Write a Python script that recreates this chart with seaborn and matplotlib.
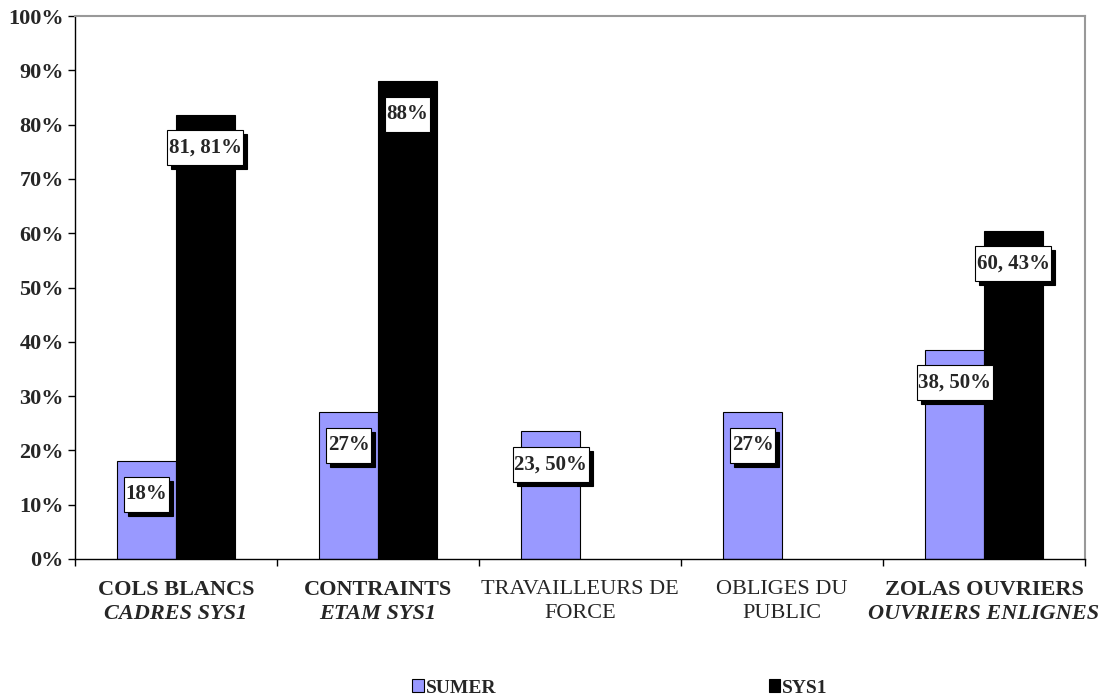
import numpy as np
import pandas as pd
import matplotlib
matplotlib.use('Agg')
import matplotlib.pyplot as plt
from matplotlib.ticker import PercentFormatter
from matplotlib.patches import Patch, Rectangle
import seaborn as sns

# data
categories = ['COLS BLANCS', 'CONTRAINTS', 'TRAVAILLEURS DE', 'OBLIGES DU', 'ZOLAS OUVRIERS']
line2 = ['CADRES SYS1', 'ETAM SYS1', 'FORCE', 'PUBLIC', 'OUVRIERS ENLIGNES']
line1_weight = ['bold', 'bold', 'normal', 'normal', 'bold']
line2_style = ['italic', 'italic', 'normal', 'normal', 'italic']
series = ['SUMER', 'SYS1']
sumer = [18.0, 27.0, 23.5, 27.0, 38.5]
sys1 = [81.81, 88.0, np.nan, np.nan, 60.43]
sumer_labels = ['18%', '27%', '23, 50%', '27%', '38, 50%']
sys1_labels = ['81, 81%', '88%', '', '', '60, 43%']
colors = ['#9999FF', '#000000']

sns.set_style('white')
plt.rcParams['font.family'] = ['Liberation Serif', 'DejaVu Serif']

df = pd.DataFrame({
    'cat': categories * 2,
    'serie': ['SUMER'] * 5 + ['SYS1'] * 5,
    'val': sumer + sys1,
})

fig = plt.figure(figsize=(11.19, 6.99), dpi=100)
ax = fig.add_axes([75/1119, 1-559/699, (1085-75)/1119, (559-16)/699])

sns.barplot(data=df, x='cat', y='val', hue='serie', palette=colors, width=0.58,
            edgecolor='black', linewidth=0.8, saturation=1, ax=ax, legend=False)

ax.set_ylim(0, 100)
ax.set_xlim(-0.5, 4.5)
ax.set_yticks(np.arange(0, 101, 10))
ax.yaxis.set_major_formatter(PercentFormatter(decimals=0))
for t in ax.get_yticklabels():
    t.set_fontweight('bold')
    t.set_fontsize(16)
ax.tick_params(axis='y', left=True, length=5, width=1, color='black', pad=3)
ax.set_xticks(np.arange(-0.5, 5, 1))
ax.set_xticklabels([])
ax.tick_params(axis='x', bottom=True, length=5, width=1, color='black')
ax.set_xlabel('')
ax.set_ylabel('')
for s in ['left', 'bottom']:
    ax.spines[s].set_color('black')
    ax.spines[s].set_linewidth(1)
for s in ['top', 'right']:
    ax.spines[s].set_color('#999999')
    ax.spines[s].set_linewidth(1.5)

# category labels, two lines with their own styles
for i in range(len(categories)):
    ax.annotate(categories[i], xy=(i, 0), xycoords=('data', 'axes fraction'),
                xytext=(0, -31), textcoords='offset pixels', ha='center', va='center',
                fontsize=16, fontweight=line1_weight[i])
    ax.annotate(line2[i], xy=(i, 0), xycoords=('data', 'axes fraction'),
                xytext=(0, -55), textcoords='offset pixels', ha='center', va='center',
                fontsize=16, fontstyle=line2_style[i],
                fontweight='bold' if line2_style[i] == 'italic' else 'normal')

# value labels
all_labels = [sumer_labels, sys1_labels]
texts = []
for cont, labs in zip(ax.containers, all_labels):
    for bar in cont:
        h = bar.get_height()
        x = bar.get_x() + bar.get_width() / 2
        lab = labs[int(round(x))]
        if lab == '' or np.isnan(h):
            continue
        t = ax.annotate(lab, xy=(x, h), xytext=(0, -33), textcoords='offset pixels',
                        ha='center', va='center', fontsize=15, fontweight='bold', zorder=6)
        texts.append(t)

# white boxes with a black shadow behind each label
fig.canvas.draw()
r = fig.canvas.get_renderer()
inv = ax.transData.inverted()
for t in texts:
    bb = t.get_window_extent(r)
    cx = (bb.x0 + bb.x1) / 2
    cy = (bb.y0 + bb.y1) / 2
    w = bb.width + 3
    hh = 35
    for dx, dy, fc, z in [(4, -4, 'black', 4), (0, 0, 'white', 5)]:
        (x0, y0) = inv.transform((cx - w / 2 + dx, cy - hh / 2 + dy))
        (x1, y1) = inv.transform((cx + w / 2 + dx, cy + hh / 2 + dy))
        ax.add_patch(Rectangle((x0, y0), x1 - x0, y1 - y0, facecolor=fc,
                               edgecolor='black', linewidth=0.8, zorder=z))

handles = [Patch(facecolor=colors[0], edgecolor='black', linewidth=0.8),
           Patch(facecolor=colors[1], edgecolor='black', linewidth=0.8)]
fig.legend(handles, series, loc='center', bbox_to_anchor=(620/1119, 1-688/699), ncol=2,
           frameon=False, handlelength=0.6, handleheight=0.6, handletextpad=0.1,
           columnspacing=14, prop={'weight': 'bold', 'size': 14})

fig.savefig('out.png', dpi=100)
